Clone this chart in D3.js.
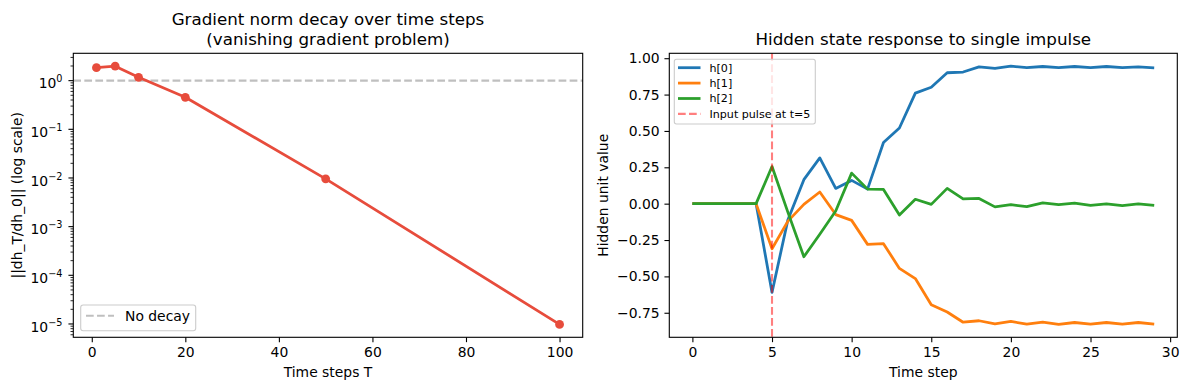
<!DOCTYPE html>
<html><head><meta charset="utf-8">
<script src="https://cdn.jsdelivr.net/npm/d3@7"></script>
<style>body{margin:0;background:#fff}svg{display:block;font-family:"DejaVu Sans",sans-serif}</style>
</head><body><svg id="c" width="1188" height="390"></svg>
<script>
// ---- data ----
const gradT = [1, 5, 10, 20, 50, 100];
const gradNorm = [1.85, 1.98, 1.17, 0.455, 0.0096, 9.8e-6];
const logTickExps = [0, -1, -2, -3, -4, -5];
const gradXTicks = [0, 20, 40, 60, 80, 100];

const steps = d3.range(0, 30);
const h0 = [0,0,0,0,0,-0.61,-0.11,0.165,0.315,0.105,0.16,0.10,0.42,0.52,0.76,0.80,0.90,0.905,0.94,0.93,0.945,0.935,0.943,0.935,0.943,0.936,0.943,0.935,0.94,0.934];
const h1 = [0,0,0,0,0,-0.31,-0.12,-0.005,0.08,-0.075,-0.115,-0.28,-0.275,-0.445,-0.515,-0.695,-0.745,-0.815,-0.805,-0.826,-0.81,-0.828,-0.815,-0.83,-0.817,-0.828,-0.817,-0.828,-0.817,-0.828];
const h2 = [0,0,0,0,0,0.255,-0.06,-0.365,-0.21,-0.05,0.21,0.10,0.098,-0.078,0.03,-0.005,0.105,0.033,0.036,-0.022,-0.007,-0.02,0.006,-0.007,0.004,-0.012,-0.002,-0.014,-0.002,-0.012];
const seriesNames = ["h[0]", "h[1]", "h[2]"];
const seriesColors = ["#1f77b4", "#ff7f0e", "#2ca02c"];
const hXTicks = [0, 5, 10, 15, 20, 25, 30];
const hYTicks = [-0.75, -0.5, -0.25, 0, 0.25, 0.5, 0.75, 1.0];
const pulseT = 5;

const svg = d3.select("#c");
const FS = 13.9;      // 10pt @100dpi
const TFS = 16.7;     // 12pt
const TL = 4.86;      // tick length
const LW = 2.78;      // 2pt line
const DASH = "7.7,3.33";

function frame(g, A) {
  g.append("rect").attr("x", A.x0).attr("y", A.y0).attr("width", A.x1 - A.x0).attr("height", A.y1 - A.y0)
    .attr("fill", "none").attr("stroke", "#000").attr("stroke-width", 1.1);
}
function styleAxis(a) {
  a.select(".domain").remove();
  a.selectAll("text").attr("font-size", FS).attr("fill", "#000").attr("font-family", "DejaVu Sans");
  a.selectAll("line").attr("stroke", "#000").attr("stroke-width", 1.1);
}

// ================= LEFT =================
{
  const A = {x0: 73.3, x1: 582.7, y0: 53.3, y1: 337.3};
  const g = svg.append("g");
  const x = d3.scaleLinear().domain([-3.95, 104.95]).range([A.x0, A.x1]);
  const lmin = Math.log10(d3.min(gradNorm)), lmax = Math.log10(d3.max(gradNorm));
  const pad = (lmax - lmin) * 0.05;
  const y = d3.scaleLog().domain([Math.pow(10, lmin - pad), Math.pow(10, lmax + pad)]).range([A.y1, A.y0]);

  g.append("line").attr("x1", A.x0).attr("x2", A.x1).attr("y1", y(1)).attr("y2", y(1))
    .attr("stroke", "#808080").attr("stroke-opacity", 0.5).attr("stroke-width", 2.08).attr("stroke-dasharray", DASH);

  const line = d3.line().x((d, i) => x(gradT[i])).y(d => y(d));
  g.append("path").datum(gradNorm).attr("d", line).attr("fill", "none").attr("stroke", "#e74c3c").attr("stroke-width", LW).attr("stroke-linejoin", "round");
  g.selectAll("circle.m").data(gradNorm).join("circle").attr("cx", (d, i) => x(gradT[i])).attr("cy", d => y(d))
    .attr("r", 4.4).attr("fill", "#e74c3c");

  frame(g, A);

  const xa = g.append("g").attr("transform", `translate(0,${A.y1})`)
    .call(d3.axisBottom(x).tickValues(gradXTicks).tickSize(TL).tickPadding(4.86).tickFormat(d3.format("d")));
  styleAxis(xa);

  logTickExps.forEach(e => {
    const yy = y(Math.pow(10, e));
    g.append("line").attr("x1", A.x0 - TL).attr("x2", A.x0).attr("y1", yy).attr("y2", yy).attr("stroke", "#000").attr("stroke-width", 1.1);
    const t = g.append("text").attr("x", 62.5).attr("y", yy + 7.6).attr("text-anchor", "end").attr("font-size", FS);
    t.append("tspan").text("10");
    t.append("tspan").attr("dy", -5.8).attr("font-size", 9.7).text(e < 0 ? "\u2212" + (-e) : String(e));
  });
  const dom = y.domain();
  for (let e = -6; e <= 1; e++) {
    for (let m = 2; m <= 9; m++) {
      const v = m * Math.pow(10, e);
      if (v < dom[0] || v > dom[1]) continue;
      const yy = y(v);
      g.append("line").attr("x1", A.x0 - 2.78).attr("x2", A.x0).attr("y1", yy).attr("y2", yy).attr("stroke", "#000").attr("stroke-width", 0.83);
    }
  }

  const cx = (A.x0 + A.x1) / 2;
  g.append("text").attr("x", cx).attr("y", 25).attr("text-anchor", "middle").attr("font-size", TFS).text("Gradient norm decay over time steps");
  g.append("text").attr("x", cx).attr("y", 45).attr("text-anchor", "middle").attr("font-size", TFS).text("(vanishing gradient problem)");
  g.append("text").attr("x", cx).attr("y", 376.5).attr("text-anchor", "middle").attr("font-size", FS).text("Time steps T");
  g.append("text").attr("transform", `translate(21.5,${(A.y0 + A.y1) / 2}) rotate(-90)`).attr("text-anchor", "middle").attr("font-size", FS).text("||dh_T/dh_0|| (log scale)");

  const lg = g.append("g");
  lg.append("rect").attr("x", 80.7).attr("y", 305).attr("width", 115).attr("height", 25.7).attr("rx", 2.5)
    .attr("fill", "#fff").attr("fill-opacity", 0.8).attr("stroke", "#ccc").attr("stroke-width", 1.1);
  lg.append("line").attr("x1", 86).attr("x2", 114).attr("y1", 315.7).attr("y2", 315.7)
    .attr("stroke", "#808080").attr("stroke-opacity", 0.5).attr("stroke-width", 2.08).attr("stroke-dasharray", DASH);
  lg.append("text").attr("x", 125).attr("y", 320.7).attr("font-size", FS).text("No decay");
}

// ================= RIGHT =================
{
  const A = {x0: 669.3, x1: 1177.3, y0: 53.3, y1: 337.3};
  const g = svg.append("g");
  const x = d3.scaleLinear().domain([-1.45, 30.45]).range([A.x0, A.x1]);
  const all = h0.concat(h1, h2);
  const mn = d3.min(all), mx = d3.max(all), pd = (mx - mn) * 0.05;
  const y = d3.scaleLinear().domain([mn - pd, mx + pd]).range([A.y1, A.y0]);

  const line = d3.line().x((d, i) => x(steps[i])).y(d => y(d));
  [h0, h1, h2].forEach((s, k) => {
    g.append("path").datum(s).attr("d", line).attr("fill", "none").attr("stroke", seriesColors[k]).attr("stroke-width", LW).attr("stroke-linejoin", "round");
  });
  g.append("line").attr("x1", x(pulseT)).attr("x2", x(pulseT)).attr("y1", A.y0).attr("y2", A.y1)
    .attr("stroke", "#ff0000").attr("stroke-opacity", 0.5).attr("stroke-width", 2.08).attr("stroke-dasharray", DASH);

  frame(g, A);

  const xa = g.append("g").attr("transform", `translate(0,${A.y1})`)
    .call(d3.axisBottom(x).tickValues(hXTicks).tickSize(TL).tickPadding(4.86).tickFormat(d3.format("d")));
  styleAxis(xa);

  const ya = g.append("g").attr("transform", `translate(${A.x0},0)`)
    .call(d3.axisLeft(y).tickValues(hYTicks).tickSize(TL).tickPadding(4.86).tickFormat(d => d3.format(".2f")(d).replace("-", "\u2212")));
  styleAxis(ya);

  const cx = (A.x0 + A.x1) / 2;
  g.append("text").attr("x", cx).attr("y", 45).attr("text-anchor", "middle").attr("font-size", TFS).text("Hidden state response to single impulse");
  g.append("text").attr("x", cx).attr("y", 376.5).attr("text-anchor", "middle").attr("font-size", FS).text("Time step");
  g.append("text").attr("transform", `translate(608,${(A.y0 + A.y1) / 2}) rotate(-90)`).attr("text-anchor", "middle").attr("font-size", FS).text("Hidden unit value");

  const lg = g.append("g");
  lg.append("rect").attr("x", 674.3).attr("y", 59.3).attr("width", 141).attr("height", 64.7).attr("rx", 2.2)
    .attr("fill", "#fff").attr("fill-opacity", 0.8).attr("stroke", "#ccc").attr("stroke-width", 1.1);
  const items = seriesNames.map((n, k) => ({n, c: seriesColors[k], dash: null, op: 1, w: LW}))
    .concat([{n: "Input pulse at t=" + pulseT, c: "#ff0000", dash: DASH, op: 0.5, w: 2.08}]);
  items.forEach((it, i) => {
    const yy = 67.7 + i * 15.4;
    lg.append("line").attr("x1", 678).attr("x2", 700.5).attr("y1", yy).attr("y2", yy)
      .attr("stroke", it.c).attr("stroke-opacity", it.op).attr("stroke-width", it.w).attr("stroke-dasharray", it.dash);
    lg.append("text").attr("x", 709.5).attr("y", yy + 3.9).attr("font-size", 11.1).text(it.n);
  });
}
</script></body></html>
